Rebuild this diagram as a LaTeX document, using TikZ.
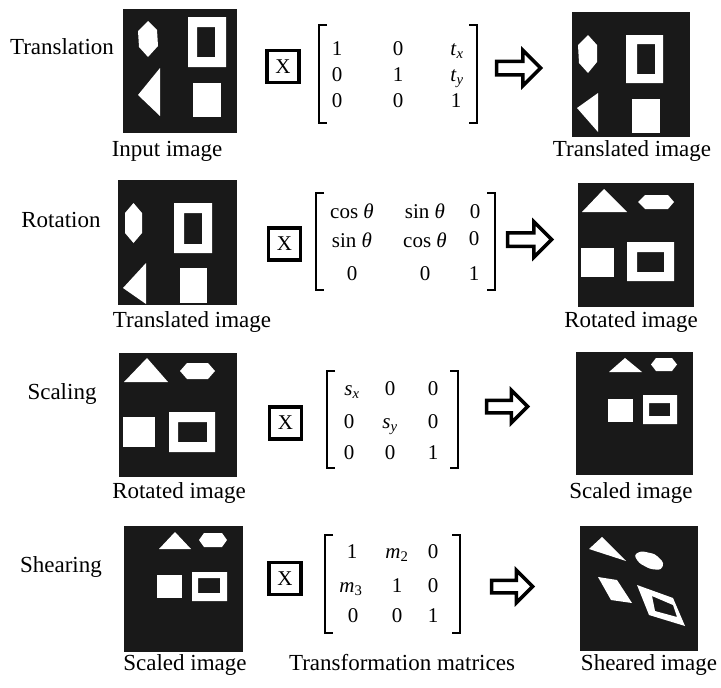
\documentclass[tikz,border=0pt]{standalone}
\usepackage{fontspec}
\setmainfont{Liberation Serif}
\usepackage{tikz}
\usetikzlibrary{shapes, shapes.arrows, calc}
\tikzstyle{caption} = [anchor=base, inner sep=0pt, font=\fontsize{23}{27}\selectfont]
\tikzstyle{entry} = [anchor=base, inner sep=0pt, font=\fontsize{21}{25}\selectfont]
\tikzstyle{scan} = [rectangle, fill=black!90, inner sep=0pt]
\tikzstyle{timesbox} = [rectangle, draw, line width=3.6pt, minimum size=32pt,
    inner sep=0pt, font=\fontsize{21}{25}\selectfont]
\tikzstyle{bracket} = [draw, line width=2.5pt]
\tikzstyle{bigarrow} = [single arrow, draw, line width=3.5pt, inner sep=5pt,
    anchor=tail, minimum height=44pt, single arrow head extend=11pt]

\begin{document}
\begin{tikzpicture}[x=1pt, y=-1pt,
    blob/.style={fill=white},
    hole/.style={fill=white, even odd rule}
    ]
    \useasboundingbox (0,0) rectangle (721,688);

    % Translation
    \node[caption] (trans) at (62,54) {Translation};
    \node[scan, minimum width=114pt, minimum height=124pt] (in1) at (180,71) {};
    \fill[blob] (148,21) -- (157,30) -- (158,46) -- (148,57) -- (139,47) -- (138,31) -- cycle;
    \fill[hole] (188,17) rectangle (226,67) (197,27) rectangle (215,57);
    \fill[blob] (138,95) -- (160,68) -- (160,116) -- cycle;
    \fill[blob] (193,83) rectangle (221,117);
    \node[caption] (in1cap) at (167,156) {Input image};
    \node[timesbox] (times1) at (283,66.5) {X};
    \draw[bracket] (327,25) -| (319,123) -- (327,123);
    \draw[bracket] (469,25) -| (477,123) -- (469,123);
    \foreach \e/\x/\y [count=\i] in {1/337/55, 0/398/55, {\textit{t}\textsubscript{\textit{x}}}/457/55,
        0/337/81, 1/398/81, {\textit{t}\textsubscript{\textit{y}}}/457/81,
        0/337/107, 0/398/107, 1/456/107}
      \node[entry] (ma\i) at (\x,\y) {\e};
    \node[bigarrow] (arr1) at (494.8,68) {};
    \node[scan, minimum width=118pt, minimum height=125pt] (out1) at (631,74.5) {};
    \fill[blob] (588,35) -- (597,45) -- (597,62) -- (588,73) -- (579,63) -- (578,45) -- cycle;
    \fill[hole] (626,35) rectangle (663,83) (637,44) rectangle (655,74);
    \fill[blob] (577,108) -- (598,93) -- (598,132) -- cycle;
    \fill[blob] (632,99) rectangle (660,133);
    \node[caption] (out1cap) at (632,156) {Translated image};

    % Rotation
    \node[caption] (rot) at (61,227) {Rotation};
    \node[scan, minimum width=119pt, minimum height=125pt] (in2) at (177.5,242.5) {};
    \fill[blob] (133.5,203) -- (142,213) -- (142,233) -- (133.5,243) -- (125,233) -- (125,213) -- cycle;
    \fill[hole] (174,203) rectangle (212,253) (184,213) rectangle (202,244);
    \fill[blob] (123,288) -- (146,263) -- (146,304) -- cycle;
    \fill[blob] (180,268) rectangle (207,303);
    \node[caption] (in2cap) at (192,327) {Translated image};
    \node[timesbox] (times2) at (284.5,244) {X};
    \draw[bracket] (324,193) -| (316,290) -- (324,290);
    \draw[bracket] (487,193) -| (495,290) -- (487,290);
    \foreach \e/\x/\y [count=\i] in {{cos \textit{θ}}/352/218, {sin \textit{θ}}/425/218, 0/475/218,
        {sin \textit{θ}}/352/247, {cos \textit{θ}}/425/247, 0/474/245,
        0/352/280, 0/425/280, 1/474/280}
      \node[entry] (mb\i) at (\x,\y) {\e};
    \node[bigarrow] (arr2) at (505.8,239.5) {};
    \node[scan, minimum width=116pt, minimum height=124pt] (out2) at (636,245) {};
    \fill[blob] (582,212) -- (627,212) -- (604,189) -- cycle;
    \fill[blob] (638,202) -- (645,195) -- (668,195) -- (674,202) -- (668,209) -- (645,209) -- cycle;
    \fill[blob] (581,248) rectangle (614,277);
    \fill[hole] (627,242) rectangle (674,281) (637,252) rectangle (664,272);
    \node[caption] (out2cap) at (631,327) {Rotated image};

    % Scaling
    \node[caption] (scal) at (62,399) {Scaling};
    \node[scan, minimum width=118pt, minimum height=124pt] (in3) at (178,415) {};
    \fill[blob] (124,382) -- (168,382) -- (147,358) -- cycle;
    \fill[blob] (180,371) -- (187,363) -- (208,363) -- (215,371) -- (208,379) -- (187,379) -- cycle;
    \fill[blob] (123,417) rectangle (155,447);
    \fill[hole] (169,412) rectangle (215,452) (178,422) rectangle (207,442);
    \node[caption] (in3cap) at (179,498) {Rotated image};
    \node[timesbox] (times3) at (285.5,423) {X};
    \draw[bracket] (335,371) -| (327,468) -- (335,468);
    \draw[bracket] (450,371) -| (458,468) -- (450,468);
    \foreach \e/\x/\y [count=\i] in {{\textit{s}\textsubscript{\textit{x}}}/352/395, 0/390/395, 0/433/395,
        0/349/428, {\textit{s}\textsubscript{\textit{y}}}/390/428, 0/433/428,
        0/349/459, 0/390/459, 1/433/459}
      \node[entry] (mc\i) at (\x,\y) {\e};
    \node[bigarrow, minimum height=41pt, inner sep=4.5pt, single arrow head extend=10pt] (arr3) at (484.8,406.5) {};
    \node[scan, minimum width=117pt, minimum height=123pt] (out3) at (634.5,413.5) {};
    \fill[blob] (609,372) -- (642,372) -- (625,358) -- cycle;
    \fill[blob] (651,364.5) -- (656,358) -- (672,358) -- (677,364.5) -- (672,371) -- (656,371) -- cycle;
    \fill[blob] (608,399) rectangle (633,422);
    \fill[hole] (643,395) rectangle (677,424) (649,403) rectangle (670,416);
    \node[caption] (out3cap) at (631,498) {Scaled image};

    % Shearing
    \node[caption] (shear) at (61,572) {Shearing};
    \node[scan, minimum width=119pt, minimum height=126pt] (in4) at (183.5,589) {};
    \fill[blob] (159,549) -- (191,549) -- (175,532) -- cycle;
    \fill[blob] (199,540) -- (204,533) -- (222,533) -- (227,540) -- (222,547) -- (204,547) -- cycle;
    \fill[blob] (157,575) rectangle (182,598);
    \fill[hole] (192,572) rectangle (227,601) (198,578) rectangle (220,593);
    \node[caption] (in4cap) at (185,670) {Scaled image};
    \node[timesbox] (times4) at (285,578.5) {X};
    \draw[bracket] (333,535) -| (325,633) -- (333,633);
    \draw[bracket] (452,535) -| (460,633) -- (452,633);
    \foreach \e/\x/\y [count=\i] in {1/352/558, {\textit{m}\textsubscript{2}}/397/558, 0/433/558,
        {\textit{m}\textsubscript{3}}/351/592, 1/397/592, 0/433/592,
        0/353/622, 0/397/622, 1/433/622}
      \node[entry] (md\i) at (\x,\y) {\e};
    \node[caption] (matcap) at (402,670) {Transformation matrices};
    \node[bigarrow, minimum height=41pt, inner sep=4.5pt, single arrow head extend=10pt] (arr4) at (489.8,586.5) {};
    \node[scan, minimum width=118pt, minimum height=125pt] (out4) at (639,588.5) {};
    \fill[blob] (589,549) -- (602,537) -- (626,561) -- cycle;
    \fill[blob, rounded corners=3pt] (634,555) -- (641,551) -- (655,554) -- (664,563) --
          (661,570) -- (650,569) -- (639,563) -- cycle;
    \fill[blob] (598,577) -- (617,580) -- (632,603) -- (611,600) -- cycle;
    \fill[hole] (637,585) -- (673,598) -- (685,626) -- (649,615) -- cycle
          (652,596) -- (673,605) -- (677,617) -- (655,611) -- cycle;
    \node[caption] (out4cap) at (649,670) {Sheared image};
\end{tikzpicture}
\end{document}
